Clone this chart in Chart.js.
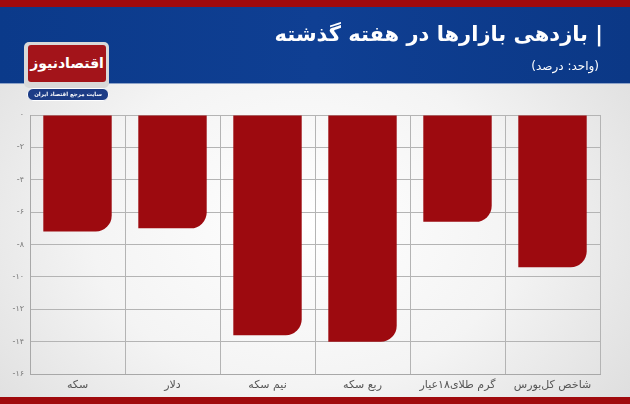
<!DOCTYPE html>
<html>
<head>
<meta charset="utf-8">
<script src="https://cdn.jsdelivr.net/npm/chart.js@4/dist/chart.umd.min.js"></script>
<style>
  html, body { margin:0; padding:0; }
  body { width:630px; height:404px; overflow:hidden; position:relative;
    background: radial-gradient(ellipse 75% 90% at 48% 55%, #ffffff 0%, #f4f4f4 45%, #d6d6d6 100%);
    font-family: "DejaVu Sans", sans-serif; }
  #topbar { position:absolute; left:0; top:0; width:630px; height:7px; background:#a00a0d; }
  #header { position:absolute; left:0; top:7px; width:630px; height:76px;
    background: linear-gradient(90deg, #0b3a8a 0%, #0f3f93 50%, #0b3886 100%);
    border-bottom:1px solid #8ea3c8; }
  #botbar { position:absolute; left:0; top:397px; width:630px; height:7px; background:#a00a0d; }
  #title { position:absolute; right:27px; top:22px; direction:rtl; color:#fff; font-weight:bold;
    font-size:21px; white-space:nowrap; }
  #subtitle { position:absolute; right:31px; top:59px; direction:rtl; color:#fff; font-size:12px; white-space:nowrap; }
  #logoBox { position:absolute; left:24px; top:42px; width:85px; height:46px; background:#d9d9d9;
    border-radius:5px; }
  #logoRed { position:absolute; left:28px; top:45px; width:78px; height:37px; background:#a3141a;
    border-radius:3px; color:#fff; font-weight:bold; font-size:14px; direction:rtl; text-align:center;
    line-height:37px; white-space:nowrap; overflow:hidden; }
  #logoPill { position:absolute; left:27px; top:88px; width:80px; height:11px; background:#1c3c86;
    border:1px solid #fff; border-radius:6px; color:#fff; font-size:5.5px; font-weight:bold;
    direction:rtl; text-align:center; line-height:11px; white-space:nowrap; overflow:hidden; }
  #wrap { position:absolute; left:0; top:0; width:630px; height:404px; }
</style>
</head>
<body>
<div id="topbar"></div>
<div id="header"></div>
<div id="botbar"></div>
<div id="wrap"><canvas id="c" width="630" height="404"></canvas></div>
<div id="title">| بازدهی بازارها در هفته گذشته</div>
<div id="subtitle">(واحد: درصد)</div>
<div id="logoBox"></div>
<div id="logoRed">اقتصادنیوز</div>
<div id="logoPill">سایت مرجع اقتصاد ایران</div>
<script>
const categories = ['سکه', 'دلار', 'نیم سکه', 'ربع سکه', 'گرم طلای۱۸عیار', 'شاخص کل‌بورس'];
const weeklyReturn = [-7.2, -7.0, -13.6, -14.0, -6.6, -9.4];
const yMin = -16;
const yMax = 0;
const yStep = 2;

const faDigits = ['۰','۱','۲','۳','۴','۵','۶','۷','۸','۹'];
function toFa(v) {
  return String(v).replace(/[0-9]/g, d => faDigits[+d]);
}

new Chart(document.getElementById('c'), {
  type: 'bar',
  data: {
    labels: categories,
    datasets: [{
      data: weeklyReturn,
      backgroundColor: '#9d0a0f',
      borderWidth: 0,
      borderRadius: { topLeft: 0, topRight: 0, bottomLeft: 0, bottomRight: 16 },
      borderSkipped: 'start',
      categoryPercentage: 0.8,
      barPercentage: 0.9
    }]
  },
  options: {
    responsive: false,
    animation: false,
    devicePixelRatio: 1,
    layout: { padding: { top: 115, right: 30, left: 0, bottom: 0 } },
    plugins: { legend: { display: false }, tooltip: { enabled: false } },
    scales: {
      x: {
        offset: true,
        grid: { display: true, offset: true, color: '#b4b4b4', lineWidth: 1, drawTicks: false },
        border: { display: true, color: '#a8a8a8' },
        ticks: { color: '#555', font: { family: 'DejaVu Sans', size: 11 }, padding: 5, maxRotation: 0, autoSkip: false },
        afterFit: s => { s.height = 30; }
      },
      y: {
        min: yMin, max: yMax,
        grid: { color: '#b4b4b4', lineWidth: 1, drawTicks: false },
        border: { display: true, color: '#a8a8a8' },
        ticks: { stepSize: yStep, color: '#777', font: { family: 'DejaVu Sans', size: 8 }, padding: 6,
          callback: v => toFa(v) },
        afterFit: s => { s.width = 30; }
      }
    }
  }
});
</script>
</body>
</html>
